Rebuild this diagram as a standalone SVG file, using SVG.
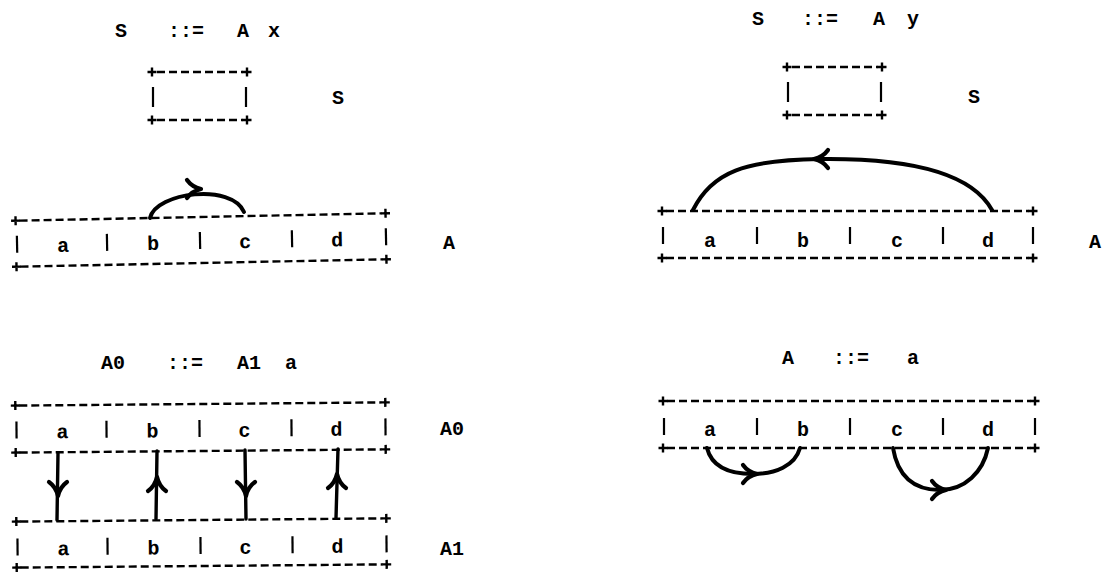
<svg xmlns="http://www.w3.org/2000/svg" xmlns:xlink="http://www.w3.org/1999/xlink" width="1106" height="572" viewBox="0 0 1106 572">
<style>
.t{font-family:"Liberation Mono","DejaVu Sans Mono",monospace;font-weight:bold;font-size:20px;fill:#000}
.c{text-anchor:middle}
.dash{stroke:#000;stroke-width:2.4;stroke-dasharray:8 4;fill:none}
.sep{stroke:#000;stroke-width:2.2}
.plus{stroke:#000;stroke-width:2.4;fill:none}
.arc{stroke:#000;stroke-width:4;fill:none;stroke-linecap:round}
.shaft{stroke:#000;stroke-width:3.4;fill:none;stroke-linecap:round}
.head{stroke:#000;stroke-width:4.2;fill:none;stroke-linecap:round;stroke-linejoin:round}
</style>
<defs>
<path id="pl" class="plus" d="M-4.5,0H4.5M0,-4.5V4.5"/>
<path id="chev" class="head" d="M-9,-14Q-2,-9 0,0Q2,-9 9,-14"/>
</defs>
<rect width="1106" height="572" fill="#fff"/>

<!-- Top-left: S ::= A x -->
<g id="title-sx">
<text class="t" x="115" y="37">S</text><text class="t" x="168" y="37">::=</text><text class="t" x="237" y="37">A</text><text class="t" x="268" y="37">x</text>
</g>
<g id="node-s-left">
<line class="dash" x1="157" y1="72" x2="243" y2="72"/><line class="dash" x1="157" y1="120" x2="243" y2="120"/>
<use href="#pl" x="152" y="72"/><use href="#pl" x="247" y="72"/><use href="#pl" x="152" y="120"/><use href="#pl" x="247" y="120"/>
<line class="sep" x1="153" y1="87" x2="153" y2="107"/><line class="sep" x1="246" y1="87" x2="246" y2="107"/>
<text class="t" x="332" y="104">S</text>
</g>
<g id="node-a-left" transform="rotate(-1.15 201 240)">
<line class="dash" x1="20" y1="217" x2="382" y2="217"/><line class="dash" x1="20" y1="263" x2="382" y2="263"/>
<use href="#pl" x="16" y="217"/><use href="#pl" x="386" y="217"/><use href="#pl" x="16" y="263"/><use href="#pl" x="386" y="263"/>
<line class="sep" x1="17" y1="232" x2="17" y2="249"/><line class="sep" x1="107" y1="232" x2="107" y2="249"/><line class="sep" x1="200" y1="232" x2="200" y2="249"/><line class="sep" x1="292" y1="232" x2="292" y2="249"/><line class="sep" x1="386" y1="232" x2="386" y2="249"/>
<text class="t c" x="63" y="249">a</text><text class="t c" x="153" y="249">b</text><text class="t c" x="245" y="249">c</text><text class="t c" x="337" y="249">d</text>
</g>
<text class="t" x="443" y="249">A</text>

<!-- Top-right: S ::= A y -->
<g id="title-sy">
<text class="t" x="752" y="25">S</text><text class="t" x="802" y="25">::=</text><text class="t" x="873" y="25">A</text><text class="t" x="907" y="25">y</text>
</g>
<g id="node-s-right">
<line class="dash" x1="792" y1="67" x2="878" y2="67"/><line class="dash" x1="792" y1="115" x2="878" y2="115"/>
<use href="#pl" x="787" y="67"/><use href="#pl" x="882" y="67"/><use href="#pl" x="787" y="115"/><use href="#pl" x="882" y="115"/>
<line class="sep" x1="788" y1="82" x2="788" y2="102"/><line class="sep" x1="881" y1="82" x2="881" y2="102"/>
<text class="t" x="968" y="103">S</text>
</g>
<g id="node-a-right">
<line class="dash" x1="666" y1="211" x2="1029" y2="211"/><line class="dash" x1="666" y1="258" x2="1029" y2="258"/>
<use href="#pl" x="662" y="211"/><use href="#pl" x="1033" y="211"/><use href="#pl" x="662" y="258"/><use href="#pl" x="1033" y="258"/>
<line class="sep" x1="663" y1="227" x2="663" y2="244"/><line class="sep" x1="757" y1="227" x2="757" y2="244"/><line class="sep" x1="850" y1="227" x2="850" y2="244"/><line class="sep" x1="943" y1="227" x2="943" y2="244"/><line class="sep" x1="1033" y1="227" x2="1033" y2="244"/>
<text class="t c" x="710" y="247">a</text><text class="t c" x="803" y="247">b</text><text class="t c" x="897" y="247">c</text><text class="t c" x="988" y="247">d</text>
<text class="t" x="1089" y="248">A</text>
</g>

<!-- Bottom-left: A0 ::= A1 a -->
<g id="title-a0">
<text class="t" x="101" y="369">A0</text><text class="t" x="167" y="369">::=</text><text class="t" x="237" y="369">A1</text><text class="t" x="285" y="369">a</text>
</g>
<g id="node-a0" transform="rotate(-0.5 200 485)">
<line class="dash" x1="20" y1="404" x2="382" y2="404"/><line class="dash" x1="20" y1="451" x2="382" y2="451"/>
<use href="#pl" x="16" y="404"/><use href="#pl" x="386" y="404"/><use href="#pl" x="16" y="451"/><use href="#pl" x="386" y="451"/>
<line class="sep" x1="17" y1="420" x2="17" y2="437"/><line class="sep" x1="107" y1="420" x2="107" y2="437"/><line class="sep" x1="200" y1="420" x2="200" y2="437"/><line class="sep" x1="292" y1="420" x2="292" y2="437"/><line class="sep" x1="386" y1="420" x2="386" y2="437"/>
<text class="t c" x="63" y="437">a</text><text class="t c" x="153" y="437">b</text><text class="t c" x="245" y="437">c</text><text class="t c" x="337" y="437">d</text>
</g>
<text class="t" x="440" y="435">A0</text>
<g id="node-a1" transform="rotate(-0.5 200 485)">
<line class="dash" x1="20" y1="520" x2="382" y2="520"/><line class="dash" x1="20" y1="566" x2="382" y2="566"/>
<use href="#pl" x="16" y="520"/><use href="#pl" x="386" y="520"/><use href="#pl" x="16" y="566"/><use href="#pl" x="386" y="566"/>
<line class="sep" x1="17" y1="537" x2="17" y2="554"/><line class="sep" x1="107" y1="537" x2="107" y2="554"/><line class="sep" x1="200" y1="537" x2="200" y2="554"/><line class="sep" x1="292" y1="537" x2="292" y2="554"/><line class="sep" x1="386" y1="537" x2="386" y2="554"/>
<text class="t c" x="63" y="554">a</text><text class="t c" x="153" y="554">b</text><text class="t c" x="245" y="554">c</text><text class="t c" x="337" y="554">d</text>
</g>
<text class="t" x="440" y="555">A1</text>

<!-- Bottom-right: A ::= a -->
<g id="title-aa">
<text class="t" x="782" y="364">A</text><text class="t" x="833" y="364">::=</text><text class="t" x="907" y="364">a</text>
</g>
<g id="node-a-br">
<line class="dash" x1="667" y1="401" x2="1031" y2="401"/><line class="dash" x1="667" y1="448" x2="1031" y2="448"/>
<use href="#pl" x="663" y="401"/><use href="#pl" x="1035" y="401"/><use href="#pl" x="663" y="448"/><use href="#pl" x="1035" y="448"/>
<line class="sep" x1="664" y1="418" x2="664" y2="435"/><line class="sep" x1="757" y1="418" x2="757" y2="435"/><line class="sep" x1="850" y1="418" x2="850" y2="435"/><line class="sep" x1="943" y1="418" x2="943" y2="435"/><line class="sep" x1="1035" y1="418" x2="1035" y2="435"/>
<text class="t c" x="710" y="436">a</text><text class="t c" x="803" y="436">b</text><text class="t c" x="897" y="436">c</text><text class="t c" x="988" y="436">d</text>
</g>

<!-- Connectors -->
<g id="connectors">
<path class="arc" d="M150,218C156,192 232,183 244,212"/>
<use href="#chev" transform="translate(201,189) rotate(-90)"/>
<path class="arc" d="M693,210C712,172 745,160 820,159C900,158 970,170 992,210"/>
<use href="#chev" transform="translate(814,159) rotate(90)"/>
<path class="shaft" d="M58,453L57,520"/><use href="#chev" transform="translate(58,496)"/>
<path class="shaft" d="M157,451L156,519"/><use href="#chev" transform="translate(157,477) rotate(180)"/>
<path class="shaft" d="M245,450L246,519"/><use href="#chev" transform="translate(246,496)"/>
<path class="shaft" d="M338,449L336,518"/><use href="#chev" transform="translate(337,474) rotate(180)"/>
<path class="arc" d="M707,448C712,468 730,474 753,474C775,474 795,466 800,448"/>
<use href="#chev" transform="translate(757,474) rotate(-90)"/>
<path class="arc" d="M893,448C898,478 915,490 940,490C965,490 983,472 988,448"/>
<use href="#chev" transform="translate(946,490) rotate(-90)"/>
</g>
</svg>
